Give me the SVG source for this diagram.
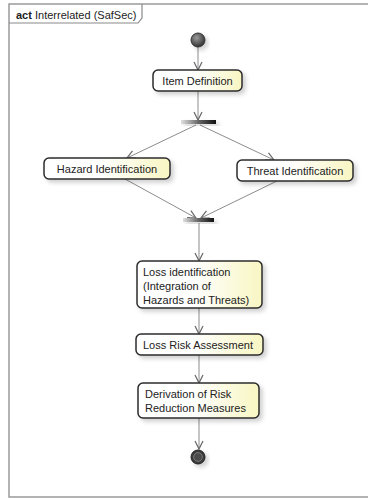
<svg xmlns="http://www.w3.org/2000/svg" width="368" height="498" viewBox="0 0 368 498">
  <defs>
    <linearGradient id="boxFill" x1="0" y1="0" x2="1" y2="0">
      <stop offset="0" stop-color="#ffffff"/>
      <stop offset="0.45" stop-color="#ffffff"/>
      <stop offset="1" stop-color="#f8f6c2"/>
    </linearGradient>
    <linearGradient id="barFill" x1="0" y1="0" x2="1" y2="0">
      <stop offset="0" stop-color="#e0e0e0"/>
      <stop offset="0.5" stop-color="#666666"/>
      <stop offset="1" stop-color="#111111"/>
    </linearGradient>
    <radialGradient id="ballFill" cx="0.4" cy="0.35" r="0.7">
      <stop offset="0" stop-color="#9a9a9a"/>
      <stop offset="1" stop-color="#2a2a2a"/>
    </radialGradient>
    <filter id="shadow" x="-20%" y="-30%" width="150%" height="180%">
      <feDropShadow dx="3" dy="3" stdDeviation="2" flood-color="#000" flood-opacity="0.18"/>
    </filter>
    <marker id="arrow" viewBox="0 0 10 10" refX="9" refY="5" markerWidth="10" markerHeight="10" markerUnits="userSpaceOnUse" orient="auto">
      <path d="M1,1 L9,5 L1,9" fill="none" stroke="#666" stroke-width="1.2"/>
    </marker>
  </defs>
  <style>
    .frame { fill: #ffffff; stroke: #9a9a9a; stroke-width: 1.5; }
    .tab { fill: none; stroke: #8a8a8a; stroke-width: 1.2; }
    .box { fill: url(#boxFill); stroke: #2b2b2b; stroke-width: 1.5; filter: url(#shadow); }
    .bar { fill: url(#barFill); filter: url(#shadow); }
    .edge { fill: none; stroke: #8c8c8c; stroke-width: 1; marker-end: url(#arrow); }
    text { font-family: "Liberation Sans", Arial, sans-serif; font-size: 11px; fill: #222; }
    .bold { font-weight: bold; }
  </style>

  <!-- activity frame -->
  <g id="frame">
    <rect class="frame" x="9" y="4" width="380" height="493"/>
    <path class="tab" d="M9,23 H138 L142,18 V4"/>
    <text x="16" y="19"><tspan class="bold">act</tspan> Interrelated (SafSec)</text>
  </g>

  <!-- connectors -->
  <g id="connectors">
    <line class="edge" x1="198" y1="47" x2="198" y2="70"/>
    <line class="edge" x1="198" y1="91" x2="198" y2="120"/>
    <line class="edge" x1="196" y1="125" x2="127" y2="158"/>
    <line class="edge" x1="200" y1="125" x2="274" y2="160"/>
    <line class="edge" x1="125" y1="179" x2="196" y2="218"/>
    <line class="edge" x1="277" y1="181" x2="201" y2="218"/>
    <line class="edge" x1="199" y1="223" x2="199" y2="261"/>
    <line class="edge" x1="199" y1="308" x2="199" y2="334"/>
    <line class="edge" x1="199" y1="355" x2="199" y2="383"/>
    <line class="edge" x1="199" y1="418" x2="199" y2="449"/>
  </g>

  <!-- start -->
  <g id="start">
    <circle cx="198" cy="40" r="7" fill="url(#ballFill)" stroke="#333" stroke-width="1" filter="url(#shadow)"/>
  </g>

  <g id="item-definition">
    <rect class="box" x="153" y="70" width="89" height="21" rx="5"/>
    <text x="197.5" y="84.5" text-anchor="middle">Item Definition</text>
  </g>

  <g id="fork">
    <rect class="bar" x="181" y="120" width="35" height="4"/>
  </g>

  <g id="hazard-identification">
    <rect class="box" x="44" y="158" width="126" height="21" rx="5"/>
    <text x="107" y="172.5" text-anchor="middle">Hazard Identification</text>
  </g>

  <g id="threat-identification">
    <rect class="box" x="237" y="160" width="116" height="21" rx="5"/>
    <text x="295" y="174.5" text-anchor="middle">Threat Identification</text>
  </g>

  <g id="join">
    <rect class="bar" x="183" y="218" width="31" height="4"/>
  </g>

  <g id="loss-identification">
    <rect class="box" x="137" y="261" width="125" height="47" rx="5"/>
    <text x="143" y="276">Loss identification</text>
    <text x="143" y="290">(Integration of</text>
    <text x="143" y="304">Hazards and Threats)</text>
  </g>

  <g id="loss-risk-assessment">
    <rect class="box" x="136" y="334" width="127" height="21" rx="5"/>
    <text x="143" y="348.5">Loss Risk Assessment</text>
  </g>

  <g id="derivation">
    <rect class="box" x="138" y="383" width="121" height="35" rx="5"/>
    <text x="145" y="398">Derivation of Risk</text>
    <text x="145" y="412">Reduction Measures</text>
  </g>

  <!-- end -->
  <g id="end">
    <circle cx="198" cy="457" r="7" fill="#3a3a3a" stroke="#222" stroke-width="1" filter="url(#shadow)"/>
    <circle cx="198" cy="457" r="4.2" fill="none" stroke="#8a8a8a" stroke-width="1"/>
    <circle cx="198" cy="457" r="3.3" fill="#4a4a4a"/>
  </g>
</svg>
